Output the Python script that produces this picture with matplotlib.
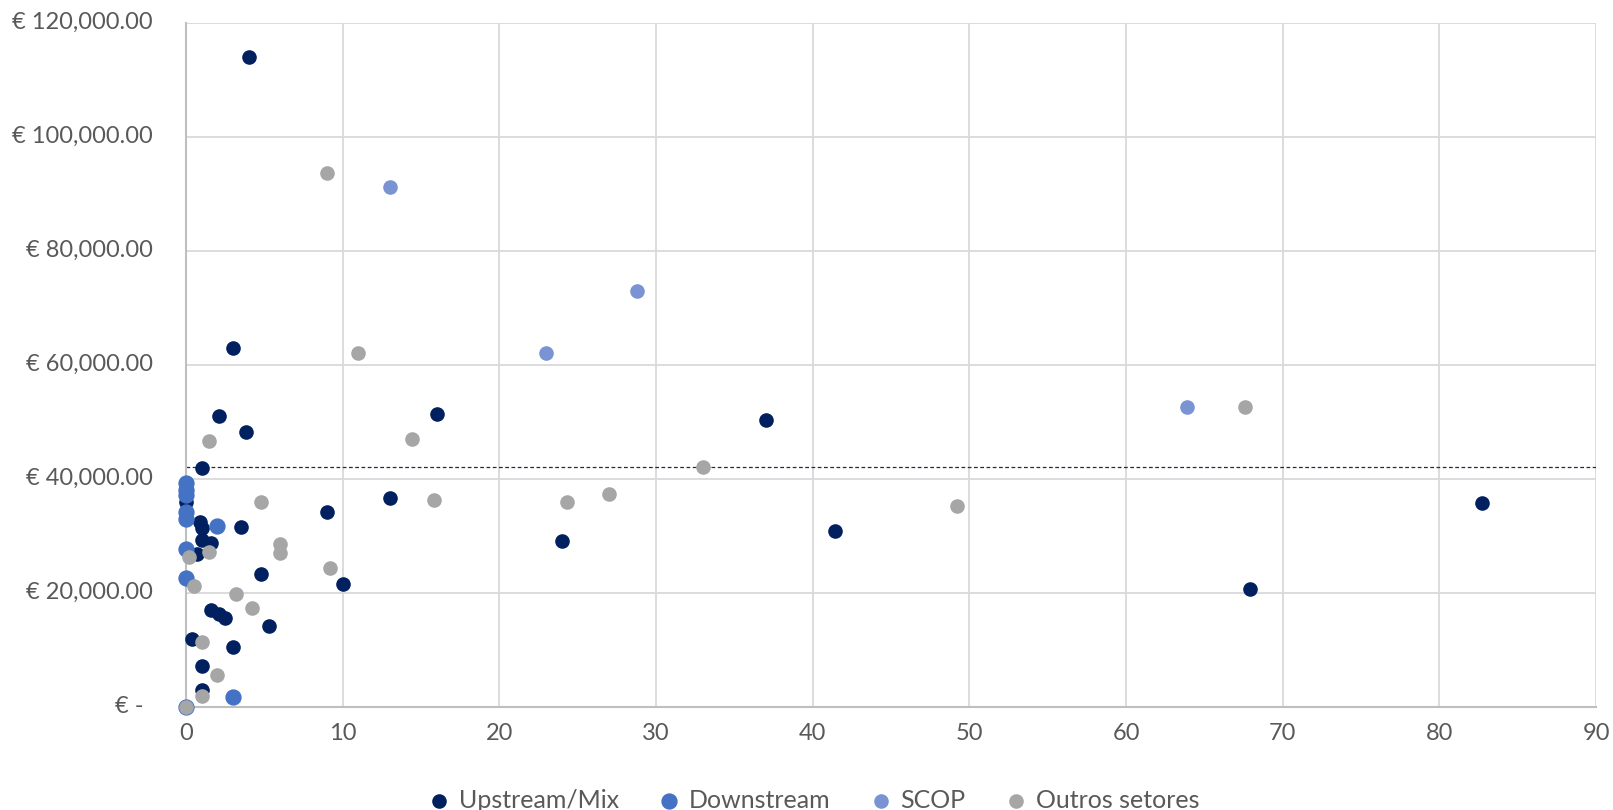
import matplotlib.pyplot as plt
from matplotlib.ticker import MultipleLocator

plt.rcParams['font.family'] = ['Lato', 'DejaVu Sans']

# Data (x = value on horizontal axis, y = euros)
upstream_x = [4.0, 3.0, 2.1, 16.0, 3.8, 37.0, 1.0, 0.0, 13.0, 9.0, 82.7, 0.9, 1.0, 3.5,
              41.4, 1.0, 1.6, 24.0, 0.7, 4.8, 10.0, 67.9, 1.6, 2.1, 2.5, 5.3, 0.4, 3.0,
              1.0, 1.0]
upstream_y = [114000, 63000, 51000, 51300, 48200, 50300, 41800, 36000, 36700, 34200,
              35800, 32400, 31300, 31600, 30800, 29200, 28700, 29100, 26800, 23200,
              21500, 20600, 17000, 16300, 15600, 14200, 11900, 10400, 7200, 2900]

downstream_x = [0, 0, 0, 0, 0, 2.0, 0, 0, 3.0, 0]
downstream_y = [39200, 38000, 37100, 34200, 33000, 31700, 27600, 22600, 1650, 0]

scop_x = [13.0, 28.8, 23.0, 63.9]
scop_y = [91200, 73000, 62000, 52500]

outros_x = [9.0, 11.0, 67.6, 1.5, 14.4, 33.0, 4.8, 15.8, 24.3, 27.0, 49.2, 6.0, 6.0,
            1.5, 0.2, 9.2, 0.5, 3.2, 4.2, 1.0, 2.0, 1.0, 0.0]
outros_y = [93700, 62000, 52600, 46700, 47000, 42000, 36000, 36300, 36000, 37300,
            35300, 28500, 27000, 27200, 26300, 24400, 21200, 19700, 17400, 11300,
            5500, 1900, 0]

average = 42000
y_ticks = [0, 20000, 40000, 60000, 80000, 100000, 120000]

fig = plt.figure(figsize=(16.13, 8.10), dpi=100)
ax = fig.add_axes([0.1153, 0.1275, 0.8742, 0.8445])

ax.scatter(upstream_x, upstream_y, s=90, color='#002060', label='Upstream/Mix',
           zorder=3, clip_on=False)
ax.scatter(downstream_x, downstream_y, s=115, color='#4472C4', label='Downstream',
           zorder=3, clip_on=False)
ax.scatter(scop_x, scop_y, s=90, color='#7A93D3', label='SCOP', zorder=3, clip_on=False)
ax.scatter(outros_x, outros_y, s=90, color='#A6A6A6', label='Outros setores',
           zorder=3, clip_on=False)

# Dashed reference line
ax.plot([0, 90], [average, average], color='#1F2A4A', linestyle=(0, (3, 2)),
        linewidth=0.9, zorder=2)

ax.set_xlim(0, 90)
ax.set_ylim(0, 120000)
ax.xaxis.set_major_locator(MultipleLocator(10))
ax.set_yticks(y_ticks)
ax.set_yticklabels([])
ax.grid(True, color='#D9D9D9', linewidth=1.3, zorder=0)
ax.set_axisbelow(True)
for side in ['top', 'right']:
    ax.spines[side].set_visible(False)
for side in ['left', 'bottom']:
    ax.spines[side].set_color('#BFBFBF')
    ax.spines[side].set_linewidth(1.5)
ax.tick_params(length=0, labelsize=17, labelcolor='#595959', pad=12)

# euro labels, right aligned (zero shown as "€ -")
trans = ax.get_yaxis_transform()
for v in y_ticks:
    if v == 0:
        ax.text(-0.030, v, '€ -', transform=trans, ha='right', va='center',
                fontsize=17, color='#595959')
    else:
        ax.text(-0.0234, v, '€ {:,.2f}'.format(v), transform=trans, ha='right',
                va='center', fontsize=17, color='#595959')

fig.legend(loc='lower center', bbox_to_anchor=(0.5, -0.03), ncol=4, frameon=False,
           fontsize=18, labelcolor='#595959', markerscale=1.0, handletextpad=-0.2,
           columnspacing=1.0)

fig.savefig('out.png', dpi=100)
